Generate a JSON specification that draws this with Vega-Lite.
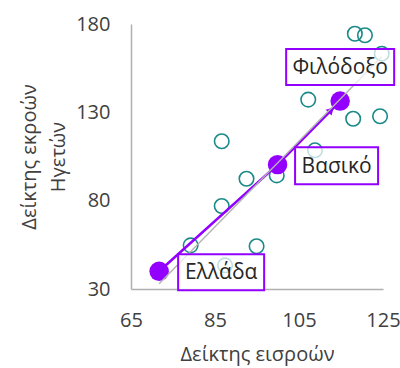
{
  "$schema": "https://vega.github.io/schema/vega-lite/v6.json",
  "width": 252,
  "height": 265,
  "padding": {"left": 19, "top": 14, "right": 5, "bottom": 5},
  "background": "white",
  "datasets": {
    "countries": [
      {"inputs": 118.3, "outputs": 174.5},
      {"inputs": 120.7, "outputs": 173.6},
      {"inputs": 124.7, "outputs": 163.2},
      {"inputs": 107.2, "outputs": 137.2},
      {"inputs": 117.9, "outputs": 126.4},
      {"inputs": 124.3, "outputs": 127.8},
      {"inputs": 86.6, "outputs": 113.6},
      {"inputs": 108.8, "outputs": 108.5},
      {"inputs": 92.5, "outputs": 92.4},
      {"inputs": 99.7, "outputs": 94.3},
      {"inputs": 86.6, "outputs": 77.0},
      {"inputs": 79.2, "outputs": 54.7},
      {"inputs": 94.9, "outputs": 54.2},
      {"inputs": 87.4, "outputs": 43.4},
      {"inputs": 71.7, "outputs": 40.0}
    ],
    "scenarios": [
      {"name": "Ελλάδα", "inputs": 71.7, "outputs": 40.0},
      {"name": "Βασικό", "inputs": 99.9, "outputs": 100.4},
      {"name": "Φιλόδοξο", "inputs": 114.8, "outputs": 136.4}
    ],
    "trend": [
      {"inputs": 71.7, "outputs": 33.0},
      {"inputs": 124.7, "outputs": 161.4}
    ]
  },
  "encoding": {
    "x": {
      "field": "inputs", "type": "quantitative",
      "scale": {"domain": [65, 125], "nice": false, "zero": false},
      "axis": {"values": [65, 85, 105, 125], "title": "Δείκτης εισροών", "labelPadding": 21, "titlePadding": 14}
    },
    "y": {
      "field": "outputs", "type": "quantitative",
      "scale": {"domain": [30, 180], "nice": false, "zero": false},
      "axis": {"values": [30, 80, 130, 180], "title": ["Δείκτης εκροών", "Ηγετών"], "labelPadding": 21, "titlePadding": 7, "titleLineHeight": 29}
    }
  },
  "layer": [
    {
      "data": {"name": "countries"},
      "mark": {"type": "point", "shape": "circle", "size": 210, "filled": false, "stroke": "#1a8a89", "strokeWidth": 1.6, "opacity": 1}
    },
    {
      "data": {"name": "scenarios"},
      "mark": {"type": "line", "color": "#9400ff", "strokeWidth": 2.6}
    },
    {
      "data": {"name": "scenarios"},
      "transform": [{"filter": "datum.name === 'Φιλόδοξο'"}],
      "mark": {"type": "point", "shape": "triangle-up", "angle": 45, "size": 70, "filled": true, "color": "#9400ff", "opacity": 1, "xOffset": -9, "yOffset": 9}
    },
    {
      "data": {"name": "scenarios"},
      "mark": {"type": "point", "shape": "circle", "size": 380, "filled": true, "color": "#9400ff", "opacity": 1}
    },
    {
      "data": {"name": "trend"},
      "mark": {"type": "line", "color": "#b3b3b3", "strokeWidth": 1.4}
    },
    {
      "data": {"name": "scenarios"},
      "transform": [{"filter": "datum.name === 'Ελλάδα'"}],
      "layer": [
        {"mark": {"type": "point", "shape": "M-0.86,-0.36L0.86,-0.36L0.86,0.36L-0.86,0.36Z", "size": 10000, "filled": true, "fill": "white", "fillOpacity": 0.72, "stroke": "#9400ff", "strokeWidth": 2, "strokeOpacity": 1, "opacity": 1, "xOffset": 62, "yOffset": 1}},
        {"mark": {"type": "text", "font": "Open Sans", "fontSize": 21, "color": "#262626", "xOffset": 62, "yOffset": 2}, "encoding": {"text": {"field": "name"}}}
      ]
    },
    {
      "data": {"name": "scenarios"},
      "transform": [{"filter": "datum.name === 'Βασικό'"}],
      "layer": [
        {"mark": {"type": "point", "shape": "M-0.83,-0.37L0.83,-0.37L0.83,0.37L-0.83,0.37Z", "size": 10000, "filled": true, "fill": "white", "fillOpacity": 0.72, "stroke": "#9400ff", "strokeWidth": 2, "strokeOpacity": 1, "opacity": 1, "xOffset": 59, "yOffset": 1}},
        {"mark": {"type": "text", "font": "Open Sans", "fontSize": 21, "color": "#262626", "xOffset": 59, "yOffset": 2}, "encoding": {"text": {"field": "name"}}}
      ]
    },
    {
      "data": {"name": "scenarios"},
      "transform": [{"filter": "datum.name === 'Φιλόδοξο'"}],
      "layer": [
        {"mark": {"type": "point", "shape": "M-1.08,-0.36L1.08,-0.36L1.08,0.36L-1.08,0.36Z", "size": 10000, "filled": true, "fill": "white", "fillOpacity": 0.72, "stroke": "#9400ff", "strokeWidth": 2, "strokeOpacity": 1, "opacity": 1, "xOffset": 0, "yOffset": -34}},
        {"mark": {"type": "text", "font": "Open Sans", "fontSize": 21, "color": "#262626", "xOffset": 0, "yOffset": -33}, "encoding": {"text": {"field": "name"}}}
      ]
    }
  ],
  "config": {
    "view": {"stroke": null},
    "axis": {
      "grid": false,
      "ticks": false,
      "domainColor": "#b0b0b0",
      "domainWidth": 1.5,
      "labelFont": "Open Sans",
      "labelFontSize": 20,
      "labelColor": "#404040",
      "titleFont": "Open Sans",
      "titleFontSize": 20,
      "titleFontWeight": "normal",
      "titleColor": "#404040"
    },
    "axisX": {"labelFlush": false},
    "axisY": {"labelFlush": false}
  }
}
